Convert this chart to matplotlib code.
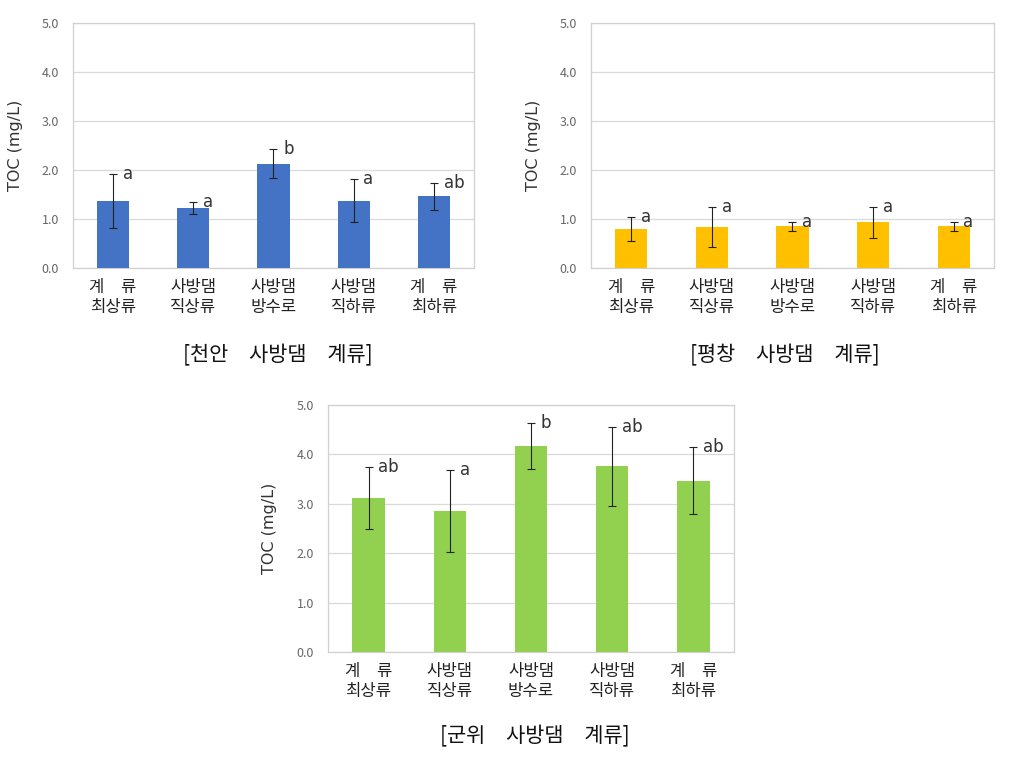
import matplotlib
matplotlib.use("Agg")
import matplotlib.pyplot as plt
import numpy as np

plt.rcParams['font.family'] = ['Noto Sans CJK KR', 'DejaVu Sans']

categories = ["계\u3000류\n최상류", "사방댐\n직상류", "사방댐\n방수로", "사방댐\n직하류", "계\u3000류\n최하류"]

cheonan_mean = [1.37, 1.22, 2.13, 1.37, 1.46]
cheonan_err = [0.55, 0.12, 0.30, 0.44, 0.27]
cheonan_letters = ["a", "a", "b", "a", "ab"]

pyeongchang_mean = [0.80, 0.83, 0.85, 0.93, 0.85]
pyeongchang_err = [0.25, 0.41, 0.09, 0.32, 0.09]
pyeongchang_letters = ["a", "a", "a", "a", "a"]

gunwi_mean = [3.11, 2.85, 4.17, 3.76, 3.47]
gunwi_err = [0.63, 0.83, 0.46, 0.80, 0.67]
gunwi_letters = ["ab", "a", "b", "ab", "ab"]

yticks = [0.0, 1.0, 2.0, 3.0, 4.0, 5.0]
ylabel = "TOC (mg/L)"
titles = ["[천안\u3000사방댐\u3000계류]", "[평창\u3000사방댐\u3000계류]", "[군위\u3000사방댐\u3000계류]"]

W, H = 1012, 770
fig = plt.figure(figsize=(W / 100, H / 100), dpi=100)


def rect(x0, x1, y0, y1):
    return [x0 / W, 1 - y1 / H, (x1 - x0) / W, (y1 - y0) / H]


def panel(r, means, errs, letters, color, label_x):
    ax = fig.add_axes(r)
    x = np.arange(len(categories))
    ax.bar(x, means, width=0.4, color=color, zorder=3)
    ax.errorbar(x, means, yerr=errs, fmt='none', ecolor='#222222',
                elinewidth=0.8, capsize=3, capthick=0.8, zorder=4)
    for xi, m, e, lt in zip(x, means, errs, letters):
        ax.text(xi + 0.12, m + e, lt, ha='left', va='center',
                fontsize=12, color='#333333', family=['DejaVu Sans'], zorder=5)
    ax.set_xlim(-0.5, len(categories) - 0.5)
    ax.set_ylim(0, 5)
    ax.set_yticks(yticks)
    ax.set_yticklabels([f"{v:.1f}" for v in yticks], fontsize=9, color='#666666')
    ax.set_xticks(x)
    ax.set_xticklabels(categories, fontsize=12, color='#222222', linespacing=1.2)
    ax.tick_params(axis='both', length=0)
    ax.tick_params(axis='x', pad=8)
    ax.tick_params(axis='y', pad=10)
    ax.grid(axis='y', color='#d9d9d9', linewidth=0.9, zorder=0)
    for s in ax.spines.values():
        s.set_color('#d0d0d0')
        s.set_linewidth(0.9)
    ax.set_ylabel(ylabel, fontsize=11.5, color='#333333', family=['DejaVu Sans'])
    ax.yaxis.set_label_coords(label_x, 0.5)
    return ax


panel(rect(73, 474, 23, 268), cheonan_mean, cheonan_err, cheonan_letters, '#4472C4', -0.125)
panel(rect(591, 994, 23, 268), pyeongchang_mean, pyeongchang_err, pyeongchang_letters, '#FFC000', -0.125)
panel(rect(328, 734, 405, 652), gunwi_mean, gunwi_err, gunwi_letters, '#92D050', -0.125)

fig.text(278 / W, 1 - 355 / H, titles[0], ha='center', va='center', fontsize=15, color='#111111')
fig.text(785 / W, 1 - 355 / H, titles[1], ha='center', va='center', fontsize=15, color='#111111')
fig.text(535 / W, 1 - 736 / H, titles[2], ha='center', va='center', fontsize=15, color='#111111')

fig.savefig("out.png", dpi=100, facecolor='white')
